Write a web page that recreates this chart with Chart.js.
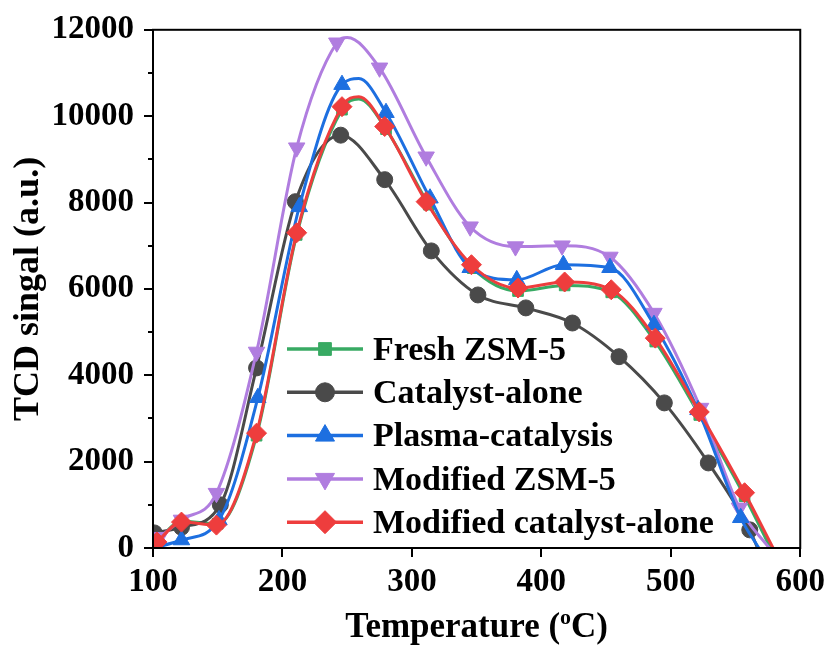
<!DOCTYPE html>
<html>
<head>
<meta charset="utf-8">
<script src="https://cdn.jsdelivr.net/npm/chart.js@4.4.0/dist/chart.umd.min.js"></script>
<style>
    html, body { margin: 0; padding: 0; background: #fff; }
    #wrap { width: 831px; height: 648px; }
</style>
</head>
<body>
<div id="wrap"><canvas id="tcdChart" width="831" height="648"></canvas></div>
<script>
// Series labels (legend order)
const seriesNames = ['Fresh ZSM-5', 'Catalyst-alone', 'Plasma-catalysis', 'Modified ZSM-5', 'Modified catalyst-alone'];

// Marker points (temperature, TCD signal)
const freshTemp = [103, 122, 150, 180, 211, 246, 280, 313, 347, 382, 418, 454, 488, 522, 557];
const freshVal = [150, 620, 560, 2600, 7250, 10150, 9700, 7950, 6480, 5950, 6080, 5920, 4780, 3080, 1200];
const catTemp = [101, 122, 152, 180, 210, 245, 279, 315, 351, 388, 424, 460, 495, 529, 561];
const catVal = [350, 480, 1000, 4170, 8020, 9560, 8530, 6880, 5860, 5560, 5210, 4430, 3360, 1970, 420];
const plasmaTemp = [101, 122, 151, 181, 213, 246, 280, 314, 345, 381, 417, 453, 487, 521, 554];
const plasmaVal = [0, 185, 650, 3480, 7900, 10730, 10080, 8100, 6490, 6210, 6560, 6490, 5170, 3200, 700];
const modZsmTemp = [105, 122, 149, 180, 211, 242, 275, 311, 345, 380, 416, 453, 487, 523, 553];
const modZsmVal = [250, 650, 1270, 4540, 9270, 11700, 11120, 9060, 7440, 6980, 7000, 6740, 5440, 3240, 930];
const modCatTemp = [103, 122, 149, 180, 211, 246, 279, 311, 346, 382, 418, 454, 488, 522, 557];
const modCatVal = [140, 600, 530, 2660, 7300, 10220, 9760, 8020, 6560, 6020, 6160, 5980, 4860, 3150, 1280];

// Extra curve points without markers (peak tops and end of curves)
const freshExtraTemp = [259, 577];
const freshExtraVal = [10400, 0];
const catExtraTemp = [567];
const catExtraVal = [0];
const plasmaExtraTemp = [259, 568];
const plasmaExtraVal = [10870, 0];
const modZsmExtraTemp = [250, 576];
const modZsmExtraVal = [11820, 0];
const modCatExtraTemp = [259, 579];
const modCatExtraVal = [10450, 0];

// Axis ticks
const xTicks = [100, 200, 300, 400, 500, 600];
const yTicks = [0, 2000, 4000, 6000, 8000, 10000, 12000];

const colors = ['#38aa63', '#4a4a4a', '#1d6fe0', '#b07ddf', '#ee3d3d'];
const styles = ['rect', 'circle', 'triangle', 'triangle', 'rectRot'];
const rotations = [0, 0, 0, 180, 0];
const radii = [7.5, 8, 9.5, 9.5, 10];
const drawOrder = [4, 3, 1, 2, 0];

const FONT = "'Liberation Serif', 'Times New Roman', serif";

const makePoints = (temps, vals, extraTemps, extraVals) => {
    let pts = temps.map((t, i) => ({x: t, y: vals[i], mark: true}));
    extraTemps.forEach((t, i) => pts.push({x: t, y: extraVals[i], mark: false}));
    return pts.sort((a, b) => a.x - b.x);
}

const allPoints = [
    makePoints(freshTemp, freshVal, freshExtraTemp, freshExtraVal),
    makePoints(catTemp, catVal, catExtraTemp, catExtraVal),
    makePoints(plasmaTemp, plasmaVal, plasmaExtraTemp, plasmaExtraVal),
    makePoints(modZsmTemp, modZsmVal, modZsmExtraTemp, modZsmExtraVal),
    makePoints(modCatTemp, modCatVal, modCatExtraTemp, modCatExtraVal)
];

const datasets = seriesNames.map((name, i) => ({
    label: name,
    data: allPoints[i],
    borderColor: colors[i],
    backgroundColor: colors[i],
    pointBackgroundColor: colors[i],
    pointBorderColor: colors[i],
    pointBorderWidth: 1,
    borderWidth: 3,
    pointStyle: styles[i],
    pointRotation: rotations[i],
    pointRadius: ctx => (ctx.raw && ctx.raw.mark) ? radii[i] : 0,
    pointHoverRadius: ctx => (ctx.raw && ctx.raw.mark) ? radii[i] : 0,
    cubicInterpolationMode: 'monotone',
    fill: false,
    order: drawOrder[i]
}));

// Frame, minor ticks, legend and x title drawn on the canvas
const decorPlugin = {
    id: 'decor',
    afterDraw(chart) {
        const ctx = chart.ctx;
        const area = chart.chartArea;
        const yScale = chart.scales.y;
        ctx.save();

        // box around plot
        ctx.strokeStyle = '#000';
        ctx.lineWidth = 2;
        ctx.strokeRect(area.left, area.top, area.right - area.left, area.bottom - area.top);

        // minor y ticks
        for (let v = 1000; v < 12000; v += 2000) {
            const py = Math.round(yScale.getPixelForValue(v));
            ctx.beginPath();
            ctx.moveTo(area.left - 5, py);
            ctx.lineTo(area.left, py);
            ctx.stroke();
        }

        // legend: line + marker + text
        const legX = 287, legY = 349, rowH = 43.3, lineW = 76;
        ctx.font = 'bold 34px ' + FONT;
        ctx.textBaseline = 'middle';
        ctx.textAlign = 'left';
        seriesNames.forEach((name, i) => {
            const cy = legY + i * rowH;
            ctx.strokeStyle = colors[i];
            ctx.lineWidth = 3.5;
            ctx.beginPath();
            ctx.moveTo(legX, cy);
            ctx.lineTo(legX + lineW, cy);
            ctx.stroke();
            ctx.fillStyle = colors[i];
            ctx.strokeStyle = colors[i];
            ctx.lineWidth = 1;
            Chart.helpers.drawPoint(ctx, {pointStyle: styles[i], rotation: rotations[i], radius: radii[i] + 1.5, borderWidth: 1}, legX + lineW / 2, cy);
            ctx.fillStyle = '#000';
            ctx.fillText(name, legX + lineW + 10, cy + 2);
        });

        // x axis title with superscript
        const big = 'bold 35px ' + FONT;
        const small = 'bold 22px ' + FONT;
        const p1 = 'Temperature (', p2 = 'o', p3 = 'C)';
        ctx.font = big;
        const w1 = ctx.measureText(p1).width, w3 = ctx.measureText(p3).width;
        ctx.font = small;
        const w2 = ctx.measureText(p2).width;
        const total = w1 + w2 + w3;
        let sx = (area.left + area.right) / 2 - total / 2;
        const base = 637;
        ctx.textBaseline = 'alphabetic';
        ctx.fillStyle = '#000';
        ctx.font = big;
        ctx.fillText(p1, sx, base);
        ctx.font = small;
        ctx.fillText(p2, sx + w1, base - 13);
        ctx.font = big;
        ctx.fillText(p3, sx + w1 + w2, base);

        ctx.restore();
    }
};

const ctx = document.getElementById('tcdChart').getContext('2d');
const tcdChart = new Chart(ctx, {
    type: 'line',
    data: { datasets: datasets },
    options: {
        responsive: false,
        animation: false,
        layout: { padding: { top: 29, right: 29, left: 0, bottom: 0 } },
        plugins: {
            legend: { display: false },
            tooltip: { enabled: false }
        },
        scales: {
            x: {
                type: 'linear',
                min: 100,
                max: 600,
                afterBuildTicks: scale => { scale.ticks = xTicks.map(v => ({value: v})); },
                afterFit: scale => { scale.height = 100; },
                grid: { display: true, drawOnChartArea: false, drawTicks: true, tickLength: 9, color: '#000', lineWidth: 2 },
                border: { display: true, color: '#000', width: 2 },
                ticks: {
                    color: '#000',
                    padding: 6,
                    maxRotation: 0,
                    font: { family: FONT, size: 33, weight: 'bold' },
                    callback: v => v
                }
            },
            y: {
                type: 'linear',
                min: 0,
                max: 12000,
                afterBuildTicks: scale => { scale.ticks = yTicks.map(v => ({value: v})); },
                afterFit: scale => { scale.width = 153; },
                grid: { display: true, drawOnChartArea: false, drawTicks: true, tickLength: 9, color: '#000', lineWidth: 2 },
                border: { display: true, color: '#000', width: 2 },
                title: {
                    display: true,
                    text: 'TCD singal (a.u.)',
                    color: '#000',
                    padding: { top: 7, bottom: 0 },
                    font: { family: FONT, size: 36, weight: 'bold' }
                },
                ticks: {
                    color: '#000',
                    padding: 10,
                    font: { family: FONT, size: 33, weight: 'bold' },
                    callback: v => v
                }
            }
        }
    },
    plugins: [decorPlugin]
});
</script>
</body>
</html>
